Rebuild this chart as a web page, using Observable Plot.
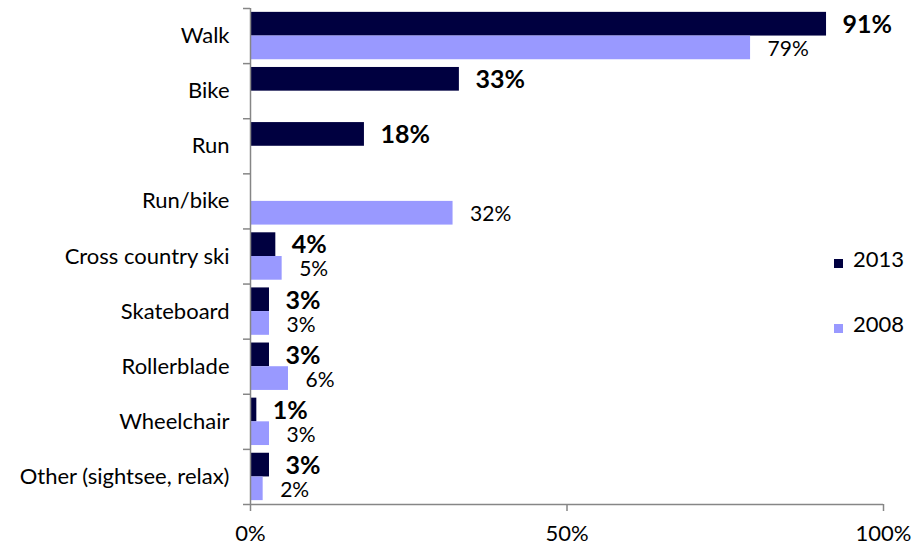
<!DOCTYPE html>
<html>
<head>
<meta charset="utf-8">
<script src="https://cdn.jsdelivr.net/npm/d3@7"></script>
<script src="https://cdn.jsdelivr.net/npm/@observablehq/plot@0.6"></script>
<style>
  body { margin: 0; background: #fff; font-family: Lato, sans-serif; }
  #wrap { position: relative; width: 912px; height: 546px; }
  .leg { position: absolute; font-size: 22px; color: #000; line-height: 1; }
  .sw { position: absolute; width: 9px; height: 9px; }
</style>
</head>
<body>
<div id="wrap"></div>
<script>
const categories = ["Walk", "Bike", "Run", "Run/bike", "Cross country ski", "Skateboard", "Rollerblade", "Wheelchair", "Other (sightsee, relax)"];
const values2013 = [91, 33, 18, null, 4, 3, 3, 1, 3];
const values2008 = [79, null, null, 32, 5, 3, 6, 3, 2];
const xTicks = [0, 50, 100];
const seriesNames = ["2013", "2008"];
const colors = ["#000040", "#9999ff"];

const rows2013 = categories.map((c, i) => ({c, i, v: values2013[i]})).filter(d => d.v != null);
const rows2008 = categories.map((c, i) => ({c, i, v: values2008[i]})).filter(d => d.v != null);

const grey = "#868686";
const chart = Plot.plot({
  width: 912,
  height: 546,
  marginLeft: 250,
  marginRight: 29,
  marginTop: 8,
  marginBottom: 42,
  style: {fontFamily: "Lato, sans-serif", fontSize: "22px", color: "#000", background: "#fff"},
  x: {domain: [0, 100], label: null},
  y: {domain: [0, categories.length], reverse: true, label: null, axis: null},
  marks: [
    Plot.rect(rows2013, {x1: 0, x2: "v", y1: d => d.i + 0.07, y2: d => d.i + 0.5, fill: colors[0]}),
    Plot.rect(rows2008, {x1: 0, x2: "v", y1: d => d.i + 0.5, y2: d => d.i + 0.93, fill: colors[1]}),
    Plot.ruleX([0], {stroke: grey, strokeWidth: 1.5}),
    Plot.ruleY([categories.length], {stroke: grey, strokeWidth: 1.5}),
    Plot.axisY(d3.range(categories.length + 1), {anchor: "left", tickSize: 7, tickFormat: () => "", stroke: grey, strokeWidth: 1.5, label: null}),
    Plot.axisY(d3.range(categories.length).map(i => i + 0.5), {anchor: "left", tickSize: 0, tickPadding: 21, tickFormat: d => categories[Math.floor(d)], fontSize: 22, fill: "#000", label: null}),
    Plot.axisX(xTicks, {anchor: "bottom", tickSize: 7, tickPadding: 14, tickFormat: d => d + "%", stroke: grey, strokeWidth: 1.5, fontSize: 22, fill: "#000", label: null}),
    Plot.text(rows2013, {x: "v", y: d => d.i + 0.3, text: d => d.v + "%", dx: 16, textAnchor: "start", fontWeight: "bold", fontSize: 25, fill: "#000"}),
    Plot.text(rows2008, {x: "v", y: d => d.i + 0.74, text: d => d.v + "%", dx: 17, textAnchor: "start", fontSize: 21, fill: "#000"})
  ]
});
const wrap = document.getElementById("wrap");
wrap.appendChild(chart);

// legend
const legTops = [251, 316];
seriesNames.forEach((name, k) => {
  const sw = document.createElement("div");
  sw.className = "sw";
  sw.style.left = "834px";
  sw.style.top = (legTops[k] + 8) + "px";
  sw.style.background = colors[k];
  wrap.appendChild(sw);
  const t = document.createElement("div");
  t.className = "leg";
  t.style.left = "853px";
  t.style.top = (legTops[k] - 3) + "px";
  t.textContent = name;
  wrap.appendChild(t);
});
</script>
</body>
</html>
